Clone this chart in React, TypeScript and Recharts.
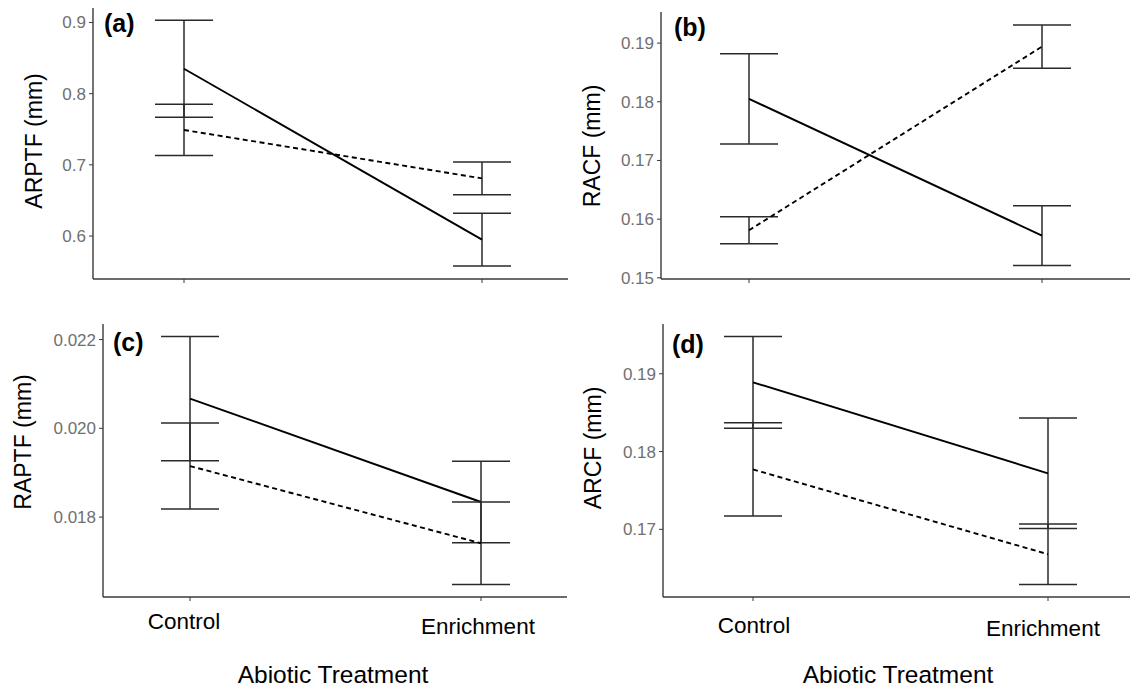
import React from "react"
import { LineChart, Line, XAxis, YAxis, ErrorBar } from "recharts"

// treatments on the x axis
const treatments = ["Control", "Enrichment"]

// (a) ARPTF
const arptfSolid = [0.835, 0.595]
const arptfSolidErr = [0.068, 0.037]
const arptfDashed = [0.749, 0.681]
const arptfDashedErr = [0.036, 0.023]
const arptfTicks = [0.6, 0.7, 0.8, 0.9]

// (b) RACF
const racfSolid = [0.1805, 0.1572]
const racfSolidErr = [0.0077, 0.0051]
const racfDashed = [0.1581, 0.1894]
const racfDashedErr = [0.0023, 0.0037]
const racfTicks = [0.15, 0.16, 0.17, 0.18, 0.19]

// (c) RAPTF
const raptfSolid = [0.02067, 0.01834]
const raptfSolidErr = [0.0014, 0.00092]
const raptfDashed = [0.01915, 0.01741]
const raptfDashedErr = [0.00097, 0.00093]
const raptfTicks = [0.018, 0.02, 0.022]

// (d) ARCF
const arcfSolid = [0.1889, 0.1772]
const arcfSolidErr = [0.0059, 0.0071]
const arcfDashed = [0.1777, 0.1668]
const arcfDashedErr = [0.006, 0.0039]
const arcfTicks = [0.17, 0.18, 0.19]

const FONT = "'Liberation Sans', Arial, Helvetica, sans-serif"
const AXIS = "#3a3a3a"

function buildRows(solid: number[], solidErr: number[], dashed: number[], dashedErr: number[]) {
  return treatments.map((name, i) => ({
    name,
    solid: solid[i],
    solidErr: solidErr[i],
    dashed: dashed[i],
    dashedErr: dashedErr[i],
  }))
}

type Nudge = Record<string, [number, number]>

function BottomTick(props: any) {
  const { x, y, payload, nudge } = props
  const n: [number, number] = (nudge && nudge[payload.value]) || [0, 26]
  return (
    <text x={x + n[0]} y={y + n[1]} textAnchor="middle" fontSize={22.5} fill="#000" fontFamily={FONT}>
      {payload.value}
    </text>
  )
}

interface PanelProps {
  box: { left: number; top: number; width: number; height: number }
  plot: { x0: number; y0: number; x1: number; y1: number }
  padL: number
  padR: number
  rows: any[]
  domain: [number, number]
  ticks: number[]
  digits: number
  showLabels: boolean
  nudge?: Nudge
}

function Panel({ box, plot, padL, padR, rows, domain, ticks, digits, showLabels, nudge }: PanelProps) {
  const xAxisH = 20
  const margin = {
    top: plot.y0 - box.top,
    right: box.left + box.width - plot.x1,
    bottom: box.top + box.height - plot.y1 - xAxisH,
    left: 0,
  }
  return (
    <div style={{ position: "absolute", left: box.left, top: box.top }}>
      <LineChart width={box.width} height={box.height} data={rows} margin={margin}>
        <XAxis
          dataKey="name"
          type="category"
          padding={{ left: padL, right: padR }}
          height={xAxisH}
          tickSize={4}
          axisLine={{ stroke: AXIS, strokeWidth: 1.4 }}
          tickLine={{ stroke: AXIS }}
          tick={showLabels ? <BottomTick nudge={nudge} /> : () => <g />}
        />
        <YAxis
          type="number"
          domain={domain}
          allowDataOverflow
          ticks={ticks}
          interval={0}
          tickFormatter={(v: number) => v.toFixed(digits)}
          width={plot.x0 - box.left}
          tickSize={4}
          tickMargin={3}
          axisLine={{ stroke: AXIS, strokeWidth: 1.4 }}
          tickLine={{ stroke: AXIS }}
          tick={{ fill: "#707070", fontSize: 17, fontFamily: FONT }}
        />
        <Line
          type="linear"
          dataKey="solid"
          stroke="#000"
          strokeWidth={1.9}
          dot={false}
          isAnimationActive={false}
        >
          <ErrorBar dataKey="solidErr" direction="y" width={29} stroke="#2a2a2a" strokeWidth={1.5} isAnimationActive={false} />
        </Line>
        <Line
          type="linear"
          dataKey="dashed"
          stroke="#000"
          strokeWidth={1.9}
          strokeDasharray="5 3.5"
          dot={false}
          isAnimationActive={false}
        >
          <ErrorBar dataKey="dashedErr" direction="y" width={29} stroke="#2a2a2a" strokeWidth={1.5} isAnimationActive={false} />
        </Line>
      </LineChart>
    </div>
  )
}

export default function App() {
  return (
    <div
      style={{
        position: "absolute",
        left: 0,
        top: 0,
        width: 1130,
        height: 689,
        background: "#fff",
        fontFamily: FONT,
      }}
    >
      <Panel
        box={{ left: 0, top: 0, width: 570, height: 300 }}
        plot={{ x0: 93, y0: 8, x1: 568, y1: 279 }}
        padL={91}
        padR={86}
        rows={buildRows(arptfSolid, arptfSolidErr, arptfDashed, arptfDashedErr)}
        domain={[0.5397, 0.9203]}
        ticks={arptfTicks}
        digits={1}
        showLabels={false}
      />
      <Panel
        box={{ left: 565, top: 0, width: 565, height: 300 }}
        plot={{ x0: 661, y0: 12, x1: 1130, y1: 279 }}
        padL={88}
        padR={88}
        rows={buildRows(racfSolid, racfSolidErr, racfDashed, racfDashedErr)}
        domain={[0.1498, 0.1953]}
        ticks={racfTicks}
        digits={2}
        showLabels={false}
      />
      <Panel
        box={{ left: 0, top: 300, width: 570, height: 389 }}
        plot={{ x0: 103, y0: 324, x1: 567, y1: 597 }}
        padL={87}
        padR={86}
        rows={buildRows(raptfSolid, raptfSolidErr, raptfDashed, raptfDashedErr)}
        domain={[0.0162, 0.02235]}
        ticks={raptfTicks}
        digits={3}
        showLabels
        nudge={{ Control: [-6, 26], Enrichment: [-3, 31] }}
      />
      <Panel
        box={{ left: 565, top: 300, width: 565, height: 389 }}
        plot={{ x0: 663, y0: 324, x1: 1130, y1: 597 }}
        padL={90}
        padR={82}
        rows={buildRows(arcfSolid, arcfSolidErr, arcfDashed, arcfDashedErr)}
        domain={[0.1613, 0.1964]}
        ticks={arcfTicks}
        digits={2}
        showLabels
        nudge={{ Control: [1, 30], Enrichment: [-5, 33] }}
      />
      <svg
        width={1130}
        height={689}
        style={{ position: "absolute", left: 0, top: 0, pointerEvents: "none" }}
        fontFamily={FONT}
      >
        <text transform="translate(34,141) rotate(-90)" textAnchor="middle" dominantBaseline="central" fontSize={23}>
          ARPTF (mm)
        </text>
        <text transform="translate(592,146) rotate(-90)" textAnchor="middle" dominantBaseline="central" fontSize={23}>
          RACF (mm)
        </text>
        <text transform="translate(23,442) rotate(-90)" textAnchor="middle" dominantBaseline="central" fontSize={23}>
          RAPTF (mm)
        </text>
        <text transform="translate(593,448) rotate(-90)" textAnchor="middle" dominantBaseline="central" fontSize={23}>
          ARCF (mm)
        </text>
        <text x={104} y={32} fontSize={25} fontWeight="bold">(a)</text>
        <text x={674} y={36} fontSize={25} fontWeight="bold">(b)</text>
        <text x={113} y={351} fontSize={25} fontWeight="bold">(c)</text>
        <text x={672} y={353} fontSize={25} fontWeight="bold">(d)</text>
        <text x={333} y={683} textAnchor="middle" fontSize={24.5}>Abiotic Treatment</text>
        <text x={898} y={683} textAnchor="middle" fontSize={24.5}>Abiotic Treatment</text>
      </svg>
    </div>
  )
}
